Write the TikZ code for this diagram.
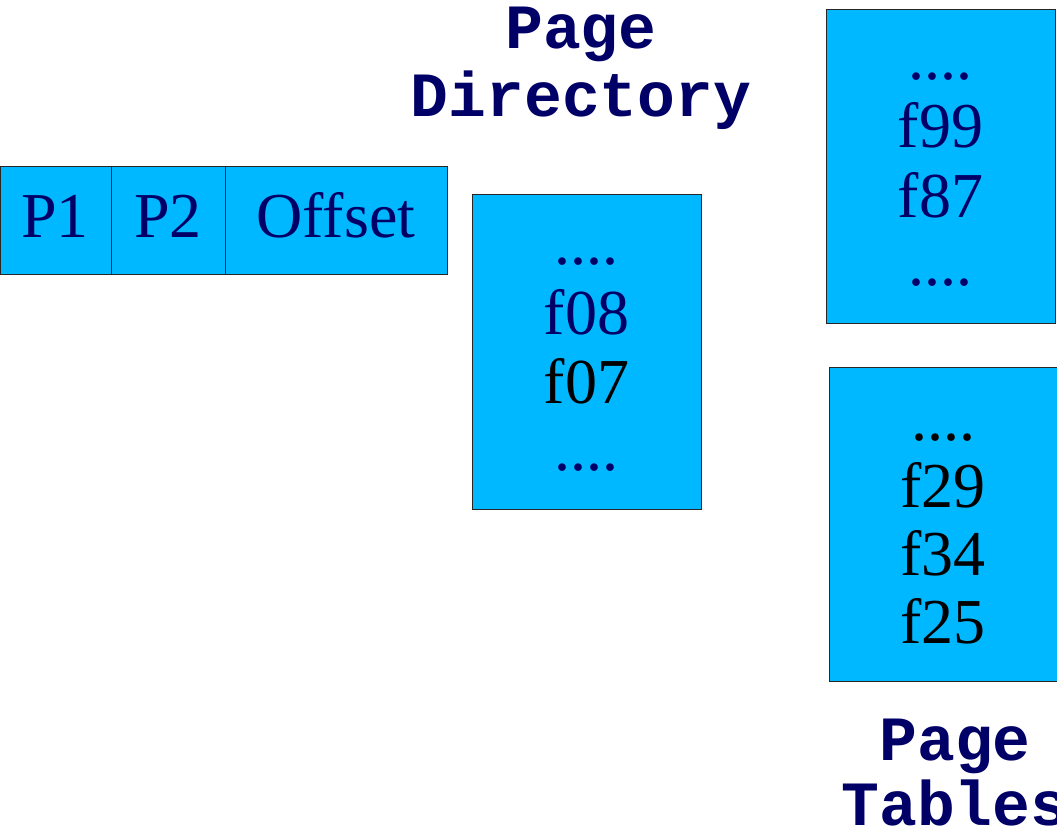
\documentclass[tikz,border=0pt]{standalone}
\usepackage{fontspec}
\setmainfont{Liberation Serif}
\newfontfamily\labelfont{Liberation Mono}
\definecolor{cellblue}{RGB}{0,184,255}
\definecolor{inknavy}{RGB}{0,0,102}

\tikzset{
  cell/.style={draw=black!85, line width=1pt, fill=cellblue, inner sep=0pt, outer sep=0pt, anchor=north west},
  entry/.style={inner sep=0pt, anchor=base, font=\fontsize{64}{70}\selectfont},
  navy/.style={text=inknavy},
  heading/.style={inner sep=0pt, anchor=base, text=inknavy, font=\labelfont\bfseries\fontsize{63}{70}\selectfont}
}

\begin{document}
\begin{tikzpicture}[x=1pt,y=-1pt]
\useasboundingbox (0,0) rectangle (1057,826);
\clip (0,0) rectangle (1057,826);

% linear address split into its three fields
\node[cell, minimum width=111pt, minimum height=108pt] (p1) at (0,167) {};
\node[cell, minimum width=114pt, minimum height=108pt] (p2) at (111,167) {};
\node[cell, minimum width=222pt, minimum height=108pt] (off) at (225,167) {};
\node[entry, navy] (p1t) at (55,238) {P1};
\node[entry, navy] (p2t) at (168,238) {P2};
\node[entry, navy] (offt) at (336,238) {Offset};

% page directory
\node[heading] (pdA) at (581,49) {Page};
\node[heading] (pdB) at (581,117) {Directory};
\node[cell, minimum width=229pt, minimum height=314pt] (dir) at (472,195) {};
\node[entry, navy] (d1) at (586.5,265) {....};
\node[entry, navy] (d2) at (586.5,334) {f08};
\node[entry] (d3) at (586.5,403) {f07};
\node[entry, navy] (d4) at (586.5,470) {....};

% first page table
\node[cell, minimum width=229pt, minimum height=313pt] (ptA) at (826,10) {};
\node[entry, navy] (a1) at (940.5,80) {....};
\node[entry, navy] (a2) at (940.5,148) {f99};
\node[entry, navy] (a3) at (940.5,218) {f87};
\node[entry, navy] (a4) at (940.5,286) {....};

% second page table
\node[cell, minimum width=232pt, minimum height=314pt] (ptB) at (829,367) {};
\node[entry] (b1) at (943,440) {....};
\node[entry] (b2) at (943,507) {f29};
\node[entry] (b3) at (943,575) {f34};
\node[entry] (b4) at (943,643) {f25};

\node[heading] (ptLA) at (955,760) {Page};
\node[heading] (ptLB) at (955,825) {Tables};
\end{tikzpicture}
\end{document}
